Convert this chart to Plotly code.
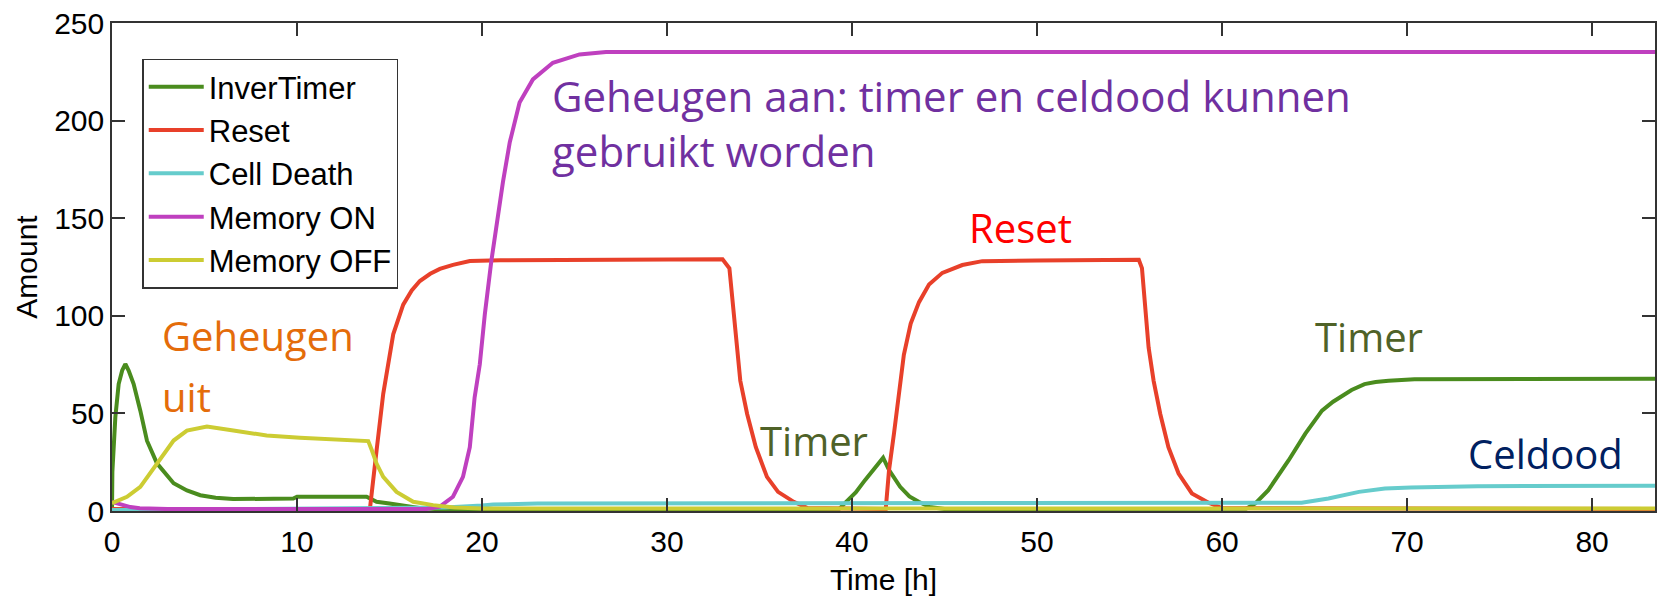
import plotly.graph_objects as go

# ---- simulated amounts over time (hours) ----
inver_t = [0, 0.02, 0.18, 0.36, 0.55, 0.72, 0.9, 1.17, 1.53, 1.89, 2.43, 3.33, 4.05, 4.77, 5.6,
           6.55, 9.8, 10.0, 13.76, 14.3, 15.0, 15.56, 16.6, 17.5, 39.3, 39.6, 40.2, 40.7, 41.2,
           41.68, 42.0, 42.6, 43.1, 43.6, 44.2, 45.0, 61.3, 61.8, 62.5, 63.6, 64.5, 65.4, 66.0,
           66.46, 67.0, 67.7, 68.3, 69.0, 70.4, 83.4]
inver_v = [0, 20, 48, 65, 72, 75.3, 72, 65, 51.4, 36, 24.4, 14.2, 10.5, 8.1, 6.8,
           6.1, 6.4, 7.3, 7.3, 4.7, 3.8, 3.0, 1.5, 1.0, 1.0, 3.9, 9.5, 15.8, 21.5,
           27.3, 21.0, 12.4, 7.5, 4.7, 2.0, 1.0, 1.2, 3.9, 10.7, 26.0, 39.6, 51.4, 56.0,
           59.0, 62.0, 65.0, 66.1, 66.7, 67.5, 67.8]

reset_t = [0, 13.94, 14.3, 14.66, 15.2, 15.74, 16.2, 16.64, 17.2, 17.72, 18.43, 19.34, 21, 25,
           33.0, 33.37, 33.73, 33.96, 34.33, 34.8, 35.4, 36.0, 36.85, 37.6, 41.82, 42.0, 42.27,
           42.54, 42.8, 43.17, 43.62, 44.16, 44.88, 45.96, 47.04, 50, 55.5, 55.67, 55.85, 56.03,
           56.3, 56.66, 57.1, 57.65, 58.37, 59.27, 60.0, 83.4]
reset_v = [1.0, 1.0, 31, 60, 90.5, 105.7, 113, 117.8, 121.5, 124.0, 126.1, 128.1, 128.5, 128.7,
           129, 124.4, 87, 66.7, 49.7, 32.7, 17.5, 9.8, 4.7, 1.5, 1.0, 21, 40,
           62, 80, 96, 107, 116, 122, 126, 128, 128.3, 128.7, 124.4, 100.7, 83.7,
           66.7, 49.7, 32.7, 19.2, 9.0, 4.2, 1.5, 1.0]

death_t = [0, 2, 5, 10, 15, 18, 20, 20.6, 23, 40, 42.5, 45, 63.5, 64.3, 65.75, 67.4, 68.8,
           70.2, 73.8, 83.4]
death_v = [0.5, 0.6, 0.8, 1.0, 1.3, 1.8, 2.8, 3.3, 3.8, 3.8, 4.3, 3.8, 3.8, 4.2, 6.4, 9.8, 11.5,
           12.0, 12.7, 12.9]

mem_on_t = [0, 0.5, 1.0, 1.5, 3, 17.0, 17.72, 18.43, 18.97, 19.34, 19.6, 19.88, 20.15, 20.5,
            20.86, 21.13, 21.5, 22.03, 22.75, 23.83, 25.27, 26.7, 83.4]
mem_on_v = [4.7, 3.2, 2.0, 1.4, 1.0, 1.0, 2.2, 7.3, 17.5, 32.7, 58.2, 75.2, 100.7, 127.8,
            151.6, 168.5, 188.9, 209.3, 221.1, 229.6, 233.9, 235.1, 235.1]

mem_off_t = [0, 0.81, 1.53, 2.43, 3.33, 4.05, 5.13, 6.56, 8.36, 10.16, 11.96, 13.85, 14.05,
             14.3, 14.66, 15.38, 16.28, 17.36, 18.5, 20, 83.4]
mem_off_v = [4, 7.3, 12.4, 24.3, 36.1, 41.2, 43.3, 41.2, 38.7, 37.5, 36.5, 35.8, 31,
             24.3, 17.5, 9.8, 4.7, 3.0, 1.8, 1.3, 1.3]

x_ticks = [0, 10, 20, 30, 40, 50, 60, 70, 80]
y_ticks = [0, 50, 100, 150, 200, 250]

series = [
    ("InverTimer", inver_t, inver_v, "#4A8C1E"),
    ("Reset", reset_t, reset_v, "#E8402A"),
    ("Cell Death", death_t, death_v, "#66CCCC"),
    ("Memory ON", mem_on_t, mem_on_v, "#BF40BF"),
    ("Memory OFF", mem_off_t, mem_off_v, "#CCCC33"),
]

fig = go.Figure()
for name, t, v, color in series:
    fig.add_trace(go.Scatter(x=t, y=v, mode="lines", name=name,
                             line=dict(color=color, width=4)))

axis_font = dict(family="Liberation Sans, Arial, sans-serif", size=30, color="black")
note_font = "Open Sans, Lato, sans-serif"

# text notes placed on the plot: text, x, y, colour, font size
notes = [
    ("Geheugen aan: timer en celdood kunnen<br>gebruikt worden", 23.7, 199, "#7030A0", 42),
    ("Geheugen", 2.6, 90, "#E46C0A", 40),
    ("uit", 2.6, 58.5, "#E46C0A", 40),
    ("Timer", 34.9, 36, "#4F6228", 40),
    ("Reset", 46.2, 145, "#FF0000", 40),
    ("Timer", 64.9, 89.5, "#4F6228", 40),
    ("Celdood", 73.2, 29.5, "#002060", 40),
]
for text, x, y, color, size in notes:
    fig.add_annotation(x=x, y=y, text=text, showarrow=False, xanchor="left", yanchor="middle",
                       align="left", font=dict(family=note_font, size=size, color=color))

fig.update_layout(
    width=1663, height=599,
    margin=dict(l=112, r=6, t=20, b=88),
    paper_bgcolor="white", plot_bgcolor="white",
    showlegend=True,
    legend=dict(x=0.0196, y=0.927, xanchor="left", yanchor="top",
                bgcolor="white", bordercolor="#333333", borderwidth=1.5,
                font=dict(family="Liberation Sans, Arial, sans-serif", size=31, color="black"),
                itemwidth=55, tracegroupgap=0),
    font=axis_font,
)
fig.update_xaxes(range=[0, 83.4], tickvals=x_ticks, ticks="inside", ticklen=13, tickwidth=1.5,
                 tickcolor="#333333", showline=True, linecolor="#333333", linewidth=1.5,
                 mirror="ticks", showgrid=False, zeroline=False, tickfont=axis_font,
                 ticklabelstandoff=3,
                 title=dict(text="Time [h]", font=axis_font, standoff=12))
fig.update_yaxes(range=[0, 250], tickvals=y_ticks, ticks="inside", ticklen=13, tickwidth=1.5,
                 tickcolor="#333333", showline=True, linecolor="#333333", linewidth=1.5,
                 mirror="ticks", showgrid=False, zeroline=False, tickfont=axis_font,
                 title=dict(text="Amount", font=axis_font, standoff=8))

fig.write_html("out.html")
